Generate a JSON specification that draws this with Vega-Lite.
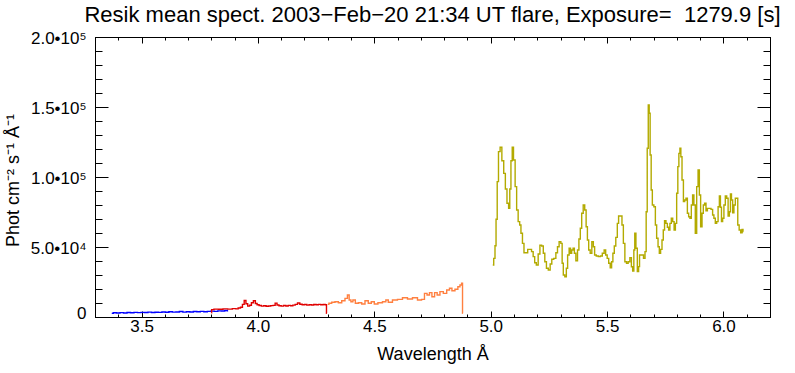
{
  "$schema": "https://vega.github.io/schema/vega-lite/v6.json",
  "width": 675,
  "height": 280,
  "autosize": {"type": "none"},
  "padding": {"left": 95, "top": 37, "right": 25, "bottom": 56},
  "background": "white",
  "title": {
    "text": "Resik mean spect. 2003−Feb−20 21:34 UT flare, Exposure= \u00a01279.9 [s]",
    "fontSize": 22,
    "fontWeight": "normal",
    "font": "Liberation Sans",
    "color": "black",
    "anchor": "middle",
    "baseline": "alphabetic",
    "offset": 10,
    "dy": 25
  },
  "config": {
    "font": "Liberation Sans",
    "view": {"stroke": "black", "strokeWidth": 1},
    "axis": {
      "grid": false,
      "domainColor": "black",
      "tickColor": "black",
      "labelColor": "black",
      "titleColor": "black",
      "labelFontSize": 17,
      "titleFontSize": 18,
      "titleFontWeight": "normal",
      "labelFlush": false,
      "labelOverlap": false,
      "labelBound": false
    }
  },
  "data": {
    "values": [
      {"x": 3.372, "y": 2600, "s": "b"}, {"x": 3.385, "y": 3000, "s": "b"}, {"x": 3.4, "y": 2900, "s": "b"}, {"x": 3.415, "y": 3100, "s": "b"}, {"x": 3.43, "y": 2900, "s": "b"}, {"x": 3.445, "y": 3200, "s": "b"}, {"x": 3.46, "y": 3000, "s": "b"}, {"x": 3.475, "y": 3300, "s": "b"}, {"x": 3.49, "y": 3100, "s": "b"}, {"x": 3.505, "y": 3300, "s": "b"}, {"x": 3.52, "y": 3200, "s": "b"}, {"x": 3.535, "y": 3500, "s": "b"}, {"x": 3.55, "y": 3200, "s": "b"}, {"x": 3.565, "y": 3400, "s": "b"}, {"x": 3.58, "y": 3300, "s": "b"}, {"x": 3.595, "y": 3600, "s": "b"}, {"x": 3.61, "y": 3400, "s": "b"}, {"x": 3.625, "y": 3700, "s": "b"}, {"x": 3.64, "y": 3500, "s": "b"}, {"x": 3.655, "y": 3600, "s": "b"}, {"x": 3.67, "y": 3900, "s": "b"}, {"x": 3.685, "y": 3500, "s": "b"}, {"x": 3.7, "y": 3700, "s": "b"}, {"x": 3.715, "y": 3600, "s": "b"}, {"x": 3.73, "y": 3900, "s": "b"}, {"x": 3.745, "y": 3700, "s": "b"}, {"x": 3.76, "y": 4000, "s": "b"}, {"x": 3.775, "y": 3800, "s": "b"}, {"x": 3.79, "y": 4000, "s": "b"}, {"x": 3.805, "y": 4200, "s": "b"}, {"x": 3.82, "y": 4000, "s": "b"}, {"x": 3.835, "y": 4400, "s": "b"}, {"x": 3.85, "y": 4300, "s": "b"}, {"x": 3.865, "y": 4600, "s": "b"}, {"x": 3.872, "y": 4400, "s": "b"},
      {"x": 3.8, "y": 3000, "s": "r"}, {"x": 3.802, "y": 5300, "s": "r"}, {"x": 3.82, "y": 5600, "s": "r"}, {"x": 3.84, "y": 5500, "s": "r"}, {"x": 3.86, "y": 5800, "s": "r"}, {"x": 3.88, "y": 5600, "s": "r"}, {"x": 3.9, "y": 6000, "s": "r"}, {"x": 3.91, "y": 5800, "s": "r"}, {"x": 3.92, "y": 6400, "s": "r"}, {"x": 3.93, "y": 7000, "s": "r"}, {"x": 3.937, "y": 9000, "s": "r"}, {"x": 3.945, "y": 11800, "s": "r"}, {"x": 3.952, "y": 9500, "s": "r"}, {"x": 3.96, "y": 7800, "s": "r"}, {"x": 3.968, "y": 8400, "s": "r"}, {"x": 3.976, "y": 10200, "s": "r"}, {"x": 3.985, "y": 11600, "s": "r"}, {"x": 3.993, "y": 9600, "s": "r"}, {"x": 4.0, "y": 8800, "s": "r"}, {"x": 4.01, "y": 8200, "s": "r"}, {"x": 4.02, "y": 7800, "s": "r"}, {"x": 4.03, "y": 8000, "s": "r"}, {"x": 4.04, "y": 7700, "s": "r"}, {"x": 4.05, "y": 7900, "s": "r"}, {"x": 4.06, "y": 8100, "s": "r"}, {"x": 4.07, "y": 8300, "s": "r"}, {"x": 4.078, "y": 9900, "s": "r"}, {"x": 4.086, "y": 8600, "s": "r"}, {"x": 4.095, "y": 8000, "s": "r"}, {"x": 4.105, "y": 7800, "s": "r"}, {"x": 4.115, "y": 8200, "s": "r"}, {"x": 4.125, "y": 7900, "s": "r"}, {"x": 4.135, "y": 8300, "s": "r"}, {"x": 4.145, "y": 8000, "s": "r"}, {"x": 4.155, "y": 8500, "s": "r"}, {"x": 4.165, "y": 9000, "s": "r"}, {"x": 4.175, "y": 10000, "s": "r"}, {"x": 4.185, "y": 9100, "s": "r"}, {"x": 4.195, "y": 8700, "s": "r"}, {"x": 4.205, "y": 8900, "s": "r"}, {"x": 4.215, "y": 8500, "s": "r"}, {"x": 4.225, "y": 8800, "s": "r"}, {"x": 4.235, "y": 8600, "s": "r"}, {"x": 4.245, "y": 8900, "s": "r"}, {"x": 4.255, "y": 8700, "s": "r"}, {"x": 4.265, "y": 9000, "s": "r"}, {"x": 4.275, "y": 8700, "s": "r"}, {"x": 4.285, "y": 8900, "s": "r"}, {"x": 4.293, "y": 8800, "s": "r"}, {"x": 4.296, "y": 2600, "s": "r"},
      {"x": 4.3, "y": 9000, "s": "o"}, {"x": 4.31, "y": 9800, "s": "o"}, {"x": 4.324, "y": 10500, "s": "o"}, {"x": 4.338, "y": 10900, "s": "o"}, {"x": 4.353, "y": 10200, "s": "o"}, {"x": 4.367, "y": 11600, "s": "o"}, {"x": 4.381, "y": 13300, "s": "o"}, {"x": 4.388, "y": 15700, "s": "o"}, {"x": 4.396, "y": 12100, "s": "o"}, {"x": 4.403, "y": 10900, "s": "o"}, {"x": 4.413, "y": 12100, "s": "o"}, {"x": 4.424, "y": 9800, "s": "o"}, {"x": 4.439, "y": 10200, "s": "o"}, {"x": 4.453, "y": 9300, "s": "o"}, {"x": 4.467, "y": 11600, "s": "o"}, {"x": 4.481, "y": 9800, "s": "o"}, {"x": 4.493, "y": 10900, "s": "o"}, {"x": 4.507, "y": 9300, "s": "o"}, {"x": 4.524, "y": 10200, "s": "o"}, {"x": 4.546, "y": 10900, "s": "o"}, {"x": 4.553, "y": 12100, "s": "o"}, {"x": 4.567, "y": 10500, "s": "o"}, {"x": 4.589, "y": 12100, "s": "o"}, {"x": 4.61, "y": 12600, "s": "o"}, {"x": 4.632, "y": 13800, "s": "o"}, {"x": 4.653, "y": 12900, "s": "o"}, {"x": 4.675, "y": 13800, "s": "o"}, {"x": 4.696, "y": 12100, "s": "o"}, {"x": 4.71, "y": 12600, "s": "o"}, {"x": 4.721, "y": 16900, "s": "o"}, {"x": 4.732, "y": 15700, "s": "o"}, {"x": 4.742, "y": 17400, "s": "o"}, {"x": 4.753, "y": 14500, "s": "o"}, {"x": 4.765, "y": 17400, "s": "o"}, {"x": 4.775, "y": 15700, "s": "o"}, {"x": 4.789, "y": 18100, "s": "o"}, {"x": 4.804, "y": 16900, "s": "o"}, {"x": 4.818, "y": 19300, "s": "o"}, {"x": 4.828, "y": 20500, "s": "o"}, {"x": 4.839, "y": 18800, "s": "o"}, {"x": 4.854, "y": 19800, "s": "o"}, {"x": 4.864, "y": 21600, "s": "o"}, {"x": 4.872, "y": 22900, "s": "o"}, {"x": 4.878, "y": 24100, "s": "o"}, {"x": 4.88, "y": 2600, "s": "o"},
      {"x": 5.009, "y": 37100, "s": "g"}, {"x": 5.017, "y": 41900, "s": "g"}, {"x": 5.02, "y": 50900, "s": "g"}, {"x": 5.026, "y": 69800, "s": "g"}, {"x": 5.03, "y": 96700, "s": "g"}, {"x": 5.037, "y": 118100, "s": "g"}, {"x": 5.044, "y": 121200, "s": "g"}, {"x": 5.052, "y": 111600, "s": "g"}, {"x": 5.06, "y": 102600, "s": "g"}, {"x": 5.066, "y": 91400, "s": "g"}, {"x": 5.074, "y": 81200, "s": "g"}, {"x": 5.08, "y": 77600, "s": "g"}, {"x": 5.084, "y": 91400, "s": "g"}, {"x": 5.09, "y": 111600, "s": "g"}, {"x": 5.095, "y": 121200, "s": "g"}, {"x": 5.101, "y": 112100, "s": "g"}, {"x": 5.109, "y": 93100, "s": "g"}, {"x": 5.114, "y": 76400, "s": "g"}, {"x": 5.122, "y": 68100, "s": "g"}, {"x": 5.127, "y": 65700, "s": "g"}, {"x": 5.133, "y": 59800, "s": "g"}, {"x": 5.14, "y": 52600, "s": "g"}, {"x": 5.146, "y": 45900, "s": "g"}, {"x": 5.155, "y": 45900, "s": "g"}, {"x": 5.163, "y": 48300, "s": "g"}, {"x": 5.172, "y": 48300, "s": "g"}, {"x": 5.179, "y": 46700, "s": "g"}, {"x": 5.186, "y": 43100, "s": "g"}, {"x": 5.192, "y": 38800, "s": "g"}, {"x": 5.2, "y": 37100, "s": "g"}, {"x": 5.208, "y": 45000, "s": "g"}, {"x": 5.215, "y": 51200, "s": "g"}, {"x": 5.223, "y": 50700, "s": "g"}, {"x": 5.229, "y": 45500, "s": "g"}, {"x": 5.236, "y": 39500, "s": "g"}, {"x": 5.243, "y": 34800, "s": "g"}, {"x": 5.252, "y": 33600, "s": "g"}, {"x": 5.259, "y": 37900, "s": "g"}, {"x": 5.266, "y": 41200, "s": "g"}, {"x": 5.276, "y": 41900, "s": "g"}, {"x": 5.284, "y": 45900, "s": "g"}, {"x": 5.29, "y": 50200, "s": "g"}, {"x": 5.298, "y": 53800, "s": "g"}, {"x": 5.305, "y": 52600, "s": "g"}, {"x": 5.309, "y": 38400, "s": "g"}, {"x": 5.315, "y": 30000, "s": "g"}, {"x": 5.322, "y": 28800, "s": "g"}, {"x": 5.328, "y": 34800, "s": "g"}, {"x": 5.333, "y": 44300, "s": "g"}, {"x": 5.341, "y": 49100, "s": "g"}, {"x": 5.345, "y": 45500, "s": "g"}, {"x": 5.351, "y": 47900, "s": "g"}, {"x": 5.357, "y": 49100, "s": "g"}, {"x": 5.362, "y": 45500, "s": "g"}, {"x": 5.37, "y": 40200, "s": "g"}, {"x": 5.376, "y": 47900, "s": "g"}, {"x": 5.382, "y": 55700, "s": "g"}, {"x": 5.388, "y": 63400, "s": "g"}, {"x": 5.394, "y": 74100, "s": "g"}, {"x": 5.401, "y": 80000, "s": "g"}, {"x": 5.407, "y": 76400, "s": "g"}, {"x": 5.413, "y": 64500, "s": "g"}, {"x": 5.418, "y": 55000, "s": "g"}, {"x": 5.424, "y": 47900, "s": "g"}, {"x": 5.431, "y": 45500, "s": "g"}, {"x": 5.438, "y": 53800, "s": "g"}, {"x": 5.444, "y": 50200, "s": "g"}, {"x": 5.449, "y": 44300, "s": "g"}, {"x": 5.458, "y": 43600, "s": "g"}, {"x": 5.467, "y": 43100, "s": "g"}, {"x": 5.475, "y": 43600, "s": "g"}, {"x": 5.484, "y": 45500, "s": "g"}, {"x": 5.491, "y": 47900, "s": "g"}, {"x": 5.497, "y": 44300, "s": "g"}, {"x": 5.504, "y": 41900, "s": "g"}, {"x": 5.51, "y": 38400, "s": "g"}, {"x": 5.517, "y": 35200, "s": "g"}, {"x": 5.522, "y": 39500, "s": "g"}, {"x": 5.528, "y": 45500, "s": "g"}, {"x": 5.534, "y": 50700, "s": "g"}, {"x": 5.541, "y": 56900, "s": "g"}, {"x": 5.547, "y": 66900, "s": "g"}, {"x": 5.552, "y": 72100, "s": "g"}, {"x": 5.561, "y": 72100, "s": "g"}, {"x": 5.567, "y": 65700, "s": "g"}, {"x": 5.573, "y": 52600, "s": "g"}, {"x": 5.58, "y": 39500, "s": "g"}, {"x": 5.587, "y": 38400, "s": "g"}, {"x": 5.594, "y": 39500, "s": "g"}, {"x": 5.602, "y": 42400, "s": "g"}, {"x": 5.607, "y": 35900, "s": "g"}, {"x": 5.613, "y": 32900, "s": "g"}, {"x": 5.617, "y": 47900, "s": "g"}, {"x": 5.621, "y": 59800, "s": "g"}, {"x": 5.627, "y": 49100, "s": "g"}, {"x": 5.633, "y": 32400, "s": "g"}, {"x": 5.638, "y": 36000, "s": "g"}, {"x": 5.641, "y": 44300, "s": "g"}, {"x": 5.653, "y": 44300, "s": "g"}, {"x": 5.66, "y": 41900, "s": "g"}, {"x": 5.666, "y": 46700, "s": "g"}, {"x": 5.67, "y": 75200, "s": "g"}, {"x": 5.675, "y": 120500, "s": "g"}, {"x": 5.679, "y": 151400, "s": "g"}, {"x": 5.683, "y": 145500, "s": "g"}, {"x": 5.687, "y": 115700, "s": "g"}, {"x": 5.692, "y": 90700, "s": "g"}, {"x": 5.697, "y": 80000, "s": "g"}, {"x": 5.705, "y": 78800, "s": "g"}, {"x": 5.71, "y": 65700, "s": "g"}, {"x": 5.716, "y": 56200, "s": "g"}, {"x": 5.722, "y": 50200, "s": "g"}, {"x": 5.727, "y": 45500, "s": "g"}, {"x": 5.733, "y": 48300, "s": "g"}, {"x": 5.739, "y": 55000, "s": "g"}, {"x": 5.744, "y": 62100, "s": "g"}, {"x": 5.75, "y": 68800, "s": "g"}, {"x": 5.756, "y": 66900, "s": "g"}, {"x": 5.762, "y": 64100, "s": "g"}, {"x": 5.767, "y": 62100, "s": "g"}, {"x": 5.773, "y": 66900, "s": "g"}, {"x": 5.779, "y": 70500, "s": "g"}, {"x": 5.785, "y": 68100, "s": "g"}, {"x": 5.791, "y": 62100, "s": "g"}, {"x": 5.796, "y": 66900, "s": "g"}, {"x": 5.802, "y": 88400, "s": "g"}, {"x": 5.806, "y": 107400, "s": "g"}, {"x": 5.811, "y": 116900, "s": "g"}, {"x": 5.815, "y": 120500, "s": "g"}, {"x": 5.819, "y": 114500, "s": "g"}, {"x": 5.825, "y": 97900, "s": "g"}, {"x": 5.831, "y": 82400, "s": "g"}, {"x": 5.836, "y": 83600, "s": "g"}, {"x": 5.842, "y": 84800, "s": "g"}, {"x": 5.848, "y": 74100, "s": "g"}, {"x": 5.853, "y": 71600, "s": "g"}, {"x": 5.859, "y": 70500, "s": "g"}, {"x": 5.865, "y": 80000, "s": "g"}, {"x": 5.87, "y": 87100, "s": "g"}, {"x": 5.876, "y": 80000, "s": "g"}, {"x": 5.882, "y": 59800, "s": "g"}, {"x": 5.888, "y": 93100, "s": "g"}, {"x": 5.894, "y": 105000, "s": "g"}, {"x": 5.899, "y": 87100, "s": "g"}, {"x": 5.905, "y": 64500, "s": "g"}, {"x": 5.911, "y": 74100, "s": "g"}, {"x": 5.916, "y": 80000, "s": "g"}, {"x": 5.922, "y": 81200, "s": "g"}, {"x": 5.928, "y": 75900, "s": "g"}, {"x": 5.934, "y": 77600, "s": "g"}, {"x": 5.942, "y": 77600, "s": "g"}, {"x": 5.951, "y": 76900, "s": "g"}, {"x": 5.956, "y": 72900, "s": "g"}, {"x": 5.962, "y": 70500, "s": "g"}, {"x": 5.968, "y": 66900, "s": "g"}, {"x": 5.974, "y": 68100, "s": "g"}, {"x": 5.98, "y": 78800, "s": "g"}, {"x": 5.985, "y": 86400, "s": "g"}, {"x": 5.989, "y": 78400, "s": "g"}, {"x": 5.994, "y": 68100, "s": "g"}, {"x": 5.999, "y": 70500, "s": "g"}, {"x": 6.005, "y": 80000, "s": "g"}, {"x": 6.011, "y": 86400, "s": "g"}, {"x": 6.017, "y": 84800, "s": "g"}, {"x": 6.023, "y": 72100, "s": "g"}, {"x": 6.028, "y": 75200, "s": "g"}, {"x": 6.032, "y": 87900, "s": "g"}, {"x": 6.037, "y": 83600, "s": "g"}, {"x": 6.042, "y": 74500, "s": "g"}, {"x": 6.048, "y": 80000, "s": "g"}, {"x": 6.054, "y": 84800, "s": "g"}, {"x": 6.059, "y": 84800, "s": "g"}, {"x": 6.064, "y": 65700, "s": "g"}, {"x": 6.071, "y": 62100, "s": "g"}, {"x": 6.077, "y": 60200, "s": "g"}, {"x": 6.083, "y": 62600, "s": "g"}, {"x": 6.085, "y": 60900, "s": "g"}
    ]
  },
  "resolve": {"axis": {"x": "independent", "y": "independent"}},
  "layer": [
    {
      "mark": {"type": "line", "interpolate": "step", "strokeWidth": 1.4},
      "encoding": {
        "x": {
          "field": "x", "type": "quantitative",
          "scale": {"domain": [3.3, 6.2], "nice": false, "zero": false},
          "axis": {
            "orient": "bottom",
            "values": [3.3, 3.4, 3.5, 3.6, 3.7, 3.8, 3.9, 4.0, 4.1, 4.2, 4.3, 4.4, 4.5, 4.6, 4.7, 4.8, 4.9, 5.0, 5.1, 5.2, 5.3, 5.4, 5.5, 5.6, 5.7, 5.8, 5.9, 6.0, 6.1, 6.2],
            "labelExpr": "abs(datum.value*2 - round(datum.value*2)) < 0.001 && datum.value > 3.4 && datum.value < 6.1 ? format(datum.value, '.1f') : ''",
            "tickSize": {"condition": {"test": "abs(datum.value*2 - round(datum.value*2)) < 0.001", "value": -6}, "value": -3},
            "labelPadding": 7,
            "title": "Wavelength Å",
            "titleX": 337.5,
            "titleY": 37,
            "titleBaseline": "middle",
            "titleAlign": "center"
          }
        },
        "y": {
          "field": "y", "type": "quantitative",
          "scale": {"domain": [0, 200000], "nice": false, "zero": false},
          "axis": {
            "orient": "left",
            "values": [0, 10000, 20000, 30000, 40000, 50000, 60000, 70000, 80000, 90000, 100000, 110000, 120000, 130000, 140000, 150000, 160000, 170000, 180000, 190000, 200000],
            "labelExpr": "datum.value === 0 ? '0' : datum.value === 50000 ? '5.0•10⁴' : datum.value === 100000 ? '1.0•10⁵' : datum.value === 150000 ? '1.5•10⁵' : datum.value === 200000 ? '2.0•10⁵' : ''",
            "tickSize": {"condition": {"test": "datum.value % 50000 === 0", "value": -13}, "value": -7},
            "labelPadding": 22,
            "labelBaseline": "middle",
            "labelOffset": {"condition": {"test": "datum.value === 0", "value": -4}, "value": 1},
            "title": "Phot cm⁻² s⁻¹ Å⁻¹",
            "titleAngle": -90,
            "titleX": -82,
            "titleY": 143,
            "titleBaseline": "middle",
            "titleAlign": "center"
          }
        },
        "color": {
          "field": "s", "type": "nominal",
          "scale": {"domain": ["b", "r", "o", "g"], "range": ["#0000ff", "#e00000", "#ff8040", "#b3aa00"]},
          "legend": null
        }
      }
    },
    {
      "mark": {"type": "line", "opacity": 0},
      "encoding": {
        "x": {
          "field": "x", "type": "quantitative",
          "axis": {
            "orient": "top",
            "values": [3.3, 3.4, 3.5, 3.6, 3.7, 3.8, 3.9, 4.0, 4.1, 4.2, 4.3, 4.4, 4.5, 4.6, 4.7, 4.8, 4.9, 5.0, 5.1, 5.2, 5.3, 5.4, 5.5, 5.6, 5.7, 5.8, 5.9, 6.0, 6.1, 6.2],
            "labels": false,
            "title": null,
            "tickSize": {"condition": {"test": "abs(datum.value*2 - round(datum.value*2)) < 0.001", "value": -6}, "value": -3}
          }
        },
        "y": {
          "field": "y", "type": "quantitative",
          "axis": {
            "orient": "right",
            "values": [0, 10000, 20000, 30000, 40000, 50000, 60000, 70000, 80000, 90000, 100000, 110000, 120000, 130000, 140000, 150000, 160000, 170000, 180000, 190000, 200000],
            "labels": false,
            "title": null,
            "tickSize": {"condition": {"test": "datum.value % 50000 === 0", "value": -13}, "value": -7}
          }
        },
        "detail": {"field": "s"}
      }
    }
  ]
}
